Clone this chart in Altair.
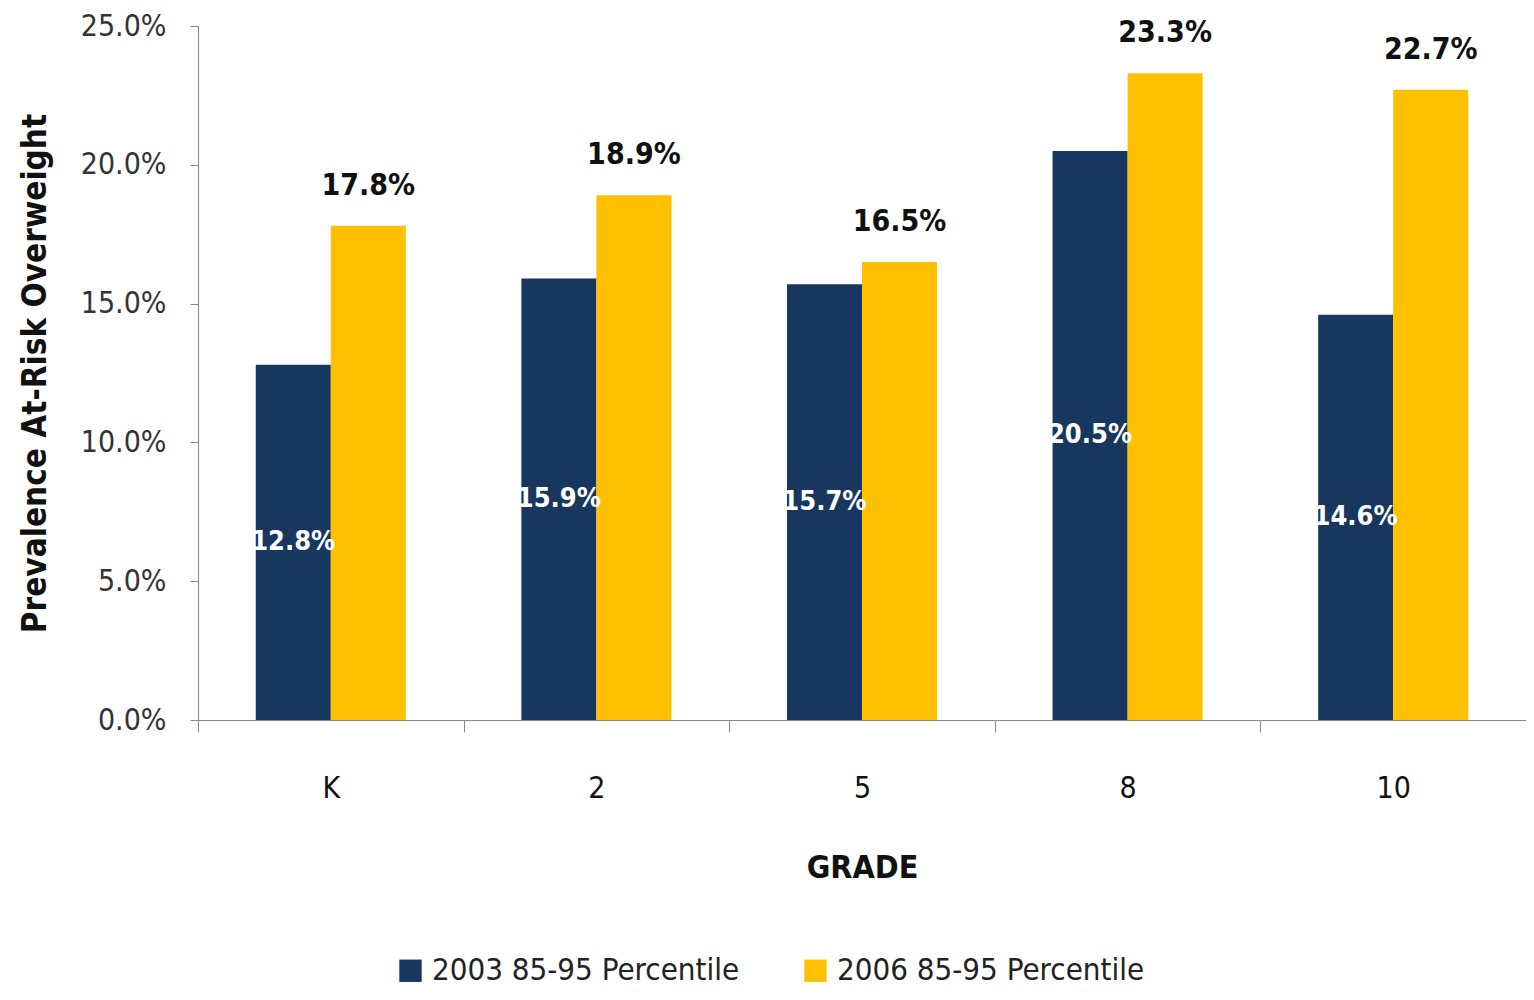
import altair as alt
import pandas as pd

grades = ["K", "2", "5", "8", "10"]
series = ["2003 85-95 Percentile", "2006 85-95 Percentile"]
v2003 = [12.8, 15.9, 15.7, 20.5, 14.6]
v2006 = [17.8, 18.9, 16.5, 23.3, 22.7]
colors = ["#17375E", "#FFC000"]

rows = []
for g, a, b in zip(grades, v2003, v2006):
    rows.append({"grade": g, "series": series[0], "v": a / 100})
    rows.append({"grade": g, "series": series[1], "v": b / 100})
df = pd.DataFrame(rows)

FONT = "Liberation Sans Narrow, DejaVu Sans Condensed, sans-serif"

x = alt.X("grade:N", sort=grades,
          scale=alt.Scale(paddingInner=0, paddingOuter=0),
          axis=alt.Axis(title="GRADE", labelAngle=0, labelFontSize=30, labelFont=FONT,
                        labelColor="#111111", labelPadding=41, tickSize=12, tickBand="extent",
                        tickColor="#888888", domainColor="#888888", titleFont=FONT,
                        titleFontSize=32, titleFontWeight="bold", titleColor="#111111",
                        titlePadding=49, grid=False))
xo = alt.XOffset("series:N", sort=series,
                 scale=alt.Scale(paddingInner=0, paddingOuter=0.77))

base = alt.Chart(df)

bars = base.mark_bar().encode(
    x=x, xOffset=xo,
    y=alt.Y("v:Q", scale=alt.Scale(domain=[0, 0.25], nice=False),
            axis=alt.Axis(title="Prevalence At-Risk Overweight", format=".1%",
                          values=[0, 0.05, 0.10, 0.15, 0.20, 0.25], grid=False,
                          labelFont=FONT, labelFontSize=30, labelColor="#333333",
                          labelPadding=24, tickSize=8, tickColor="#888888",
                          domainColor="#888888", titleFont=FONT, titleFontSize=33,
                          titleFontWeight="bold", titleColor="#111111", titlePadding=28)),
    color=alt.Color("series:N", sort=series,
                    scale=alt.Scale(domain=series, range=colors),
                    legend=alt.Legend(title=None, orient="none", direction="horizontal",
                                      legendX=197, legendY=929, symbolType="square",
                                      symbolSize=500, symbolStrokeWidth=0, symbolOpacity=1,
                                      labelFont=FONT, labelFontSize=31, labelColor="#222222",
                                      labelOffset=6, columnPadding=60, labelLimit=400)),
)

top_labels = base.transform_filter(alt.datum.series == series[1]).mark_text(
    font=FONT, fontSize=30, fontWeight="bold", color="#111111", baseline="alphabetic", dy=-31
).encode(x=x, xOffset=xo, y="v:Q", text=alt.Text("v:Q", format=".1%"))

in_labels = base.transform_filter(alt.datum.series == series[0]).transform_calculate(
    mid="datum.v / 2"
).mark_text(
    font=FONT, fontSize=27, fontWeight="bold", color="white", baseline="middle"
).encode(x=x, xOffset=xo, y="mid:Q", text=alt.Text("v:Q", format=".1%"))

chart = alt.layer(bars, top_labels, in_labels).properties(
    width=1328, height=694,
    autosize=alt.AutoSizeParams(type="none"),
    padding={"left": 190, "top": 18, "right": 0, "bottom": 272},
).configure(background="white").configure_view(strokeWidth=0, stroke="transparent")

chart.save("out.html", embed_options={"renderer": "svg", "actions": False})
